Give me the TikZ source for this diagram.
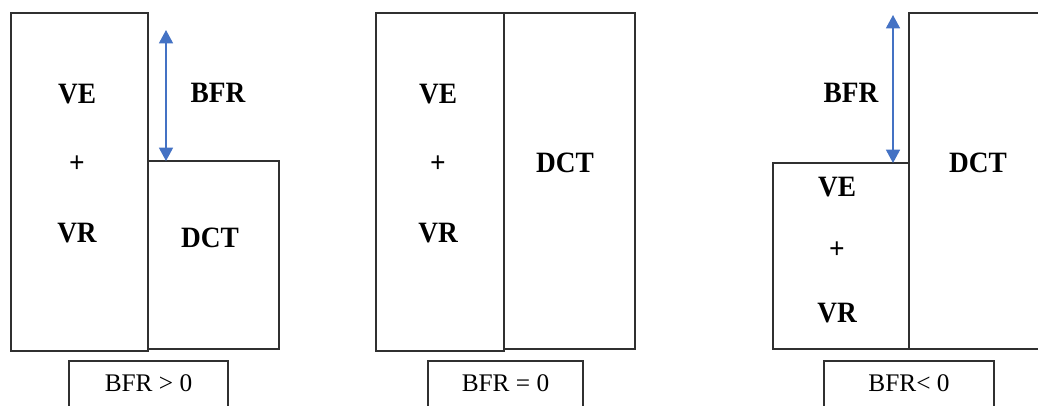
\documentclass[tikz,border=0pt]{standalone}
\usepackage{fontspec}
\setmainfont{Liberation Serif}
\usetikzlibrary{arrows.meta}
\definecolor{edge}{HTML}{303030}
\definecolor{gapblue}{HTML}{4472C4}
\tikzset{
  block/.style={draw=edge, line width=1.5pt, inner sep=0pt, outer sep=0pt},
  tag/.style={font=\fontsize{20.5}{24}\selectfont\bfseries, inner sep=0pt},
  caption/.style={font=\fontsize{19}{22}\selectfont, inner sep=0pt},
  gap/.style={draw=gapblue, line width=1.1pt, {Triangle[width=10.5pt,length=10pt]}-{Triangle[width=10.5pt,length=10pt]}}
}
% block of given width and height (in px) at a centre point
\newcommand\blockat[5]{\node[block, minimum width={#4*0.75pt}, minimum height={#5*0.75pt}] (#1) at (#2,#3) {};}
% bold word, slightly taller than wide
\newcommand\tall[1]{\scalebox{1}[1.08]{#1}}
\begin{document}
\begin{tikzpicture}[x=0.75pt, y=-0.75pt]
\useasboundingbox (0,0) rectangle (1038,405);
\clip (0,0) rectangle (1038,405);

% ---- BFR > 0 ----
\blockat{vv1}{79.5}{182}{137}{338}
\blockat{dct1}{213.5}{255}{131}{188}
\node[tag] (ve1) at (77,94) {\tall{VE}};
\node[tag] (pl1) at (77,164) {\tall{+}};
\node[tag] (vr1) at (77,233) {\tall{VR}};
\node[tag] (d1) at (210,238) {\tall{DCT}};
\coordinate (top1) at (166,30);
\draw[gap] (top1) -- (top1 |- dct1.north);
\node[tag] (bfr1) at (218,93) {\tall{BFR}};
\blockat{cap1}{148.5}{395}{159}{68}
\node[caption] (c1) at (148.5,383) {BFR > 0};

% ---- BFR = 0 ----
\blockat{vv2}{440}{182}{128}{338}
\blockat{dct2}{569.5}{181}{131}{336}
\node[tag] (ve2) at (438,94) {\tall{VE}};
\node[tag] (pl2) at (438,164) {\tall{+}};
\node[tag] (vr2) at (438,233) {\tall{VR}};
\node[tag] (d2) at (565,163) {\tall{DCT}};
\blockat{cap2}{505.5}{395}{155}{68}
\node[caption] (c2) at (505.5,383) {BFR = 0};

% ---- BFR < 0 ----
\blockat{vv3}{841}{256}{136}{186}
\blockat{dct3}{984.5}{181}{151}{336}
\node[tag] (ve3) at (837,187) {\tall{VE}};
\node[tag] (pl3) at (837,250) {\tall{+}};
\node[tag] (vr3) at (837,313) {\tall{VR}};
\node[tag] (d3) at (978,163) {\tall{DCT}};
\coordinate (top3) at (893,15);
\draw[gap] (top3) -- (top3 |- vv3.north);
\node[tag] (bfr3) at (851,93) {\tall{BFR}};
\blockat{cap3}{909}{395}{170}{68}
\node[caption] (c3) at (909,383) {BFR< 0};
\end{tikzpicture}
\end{document}
